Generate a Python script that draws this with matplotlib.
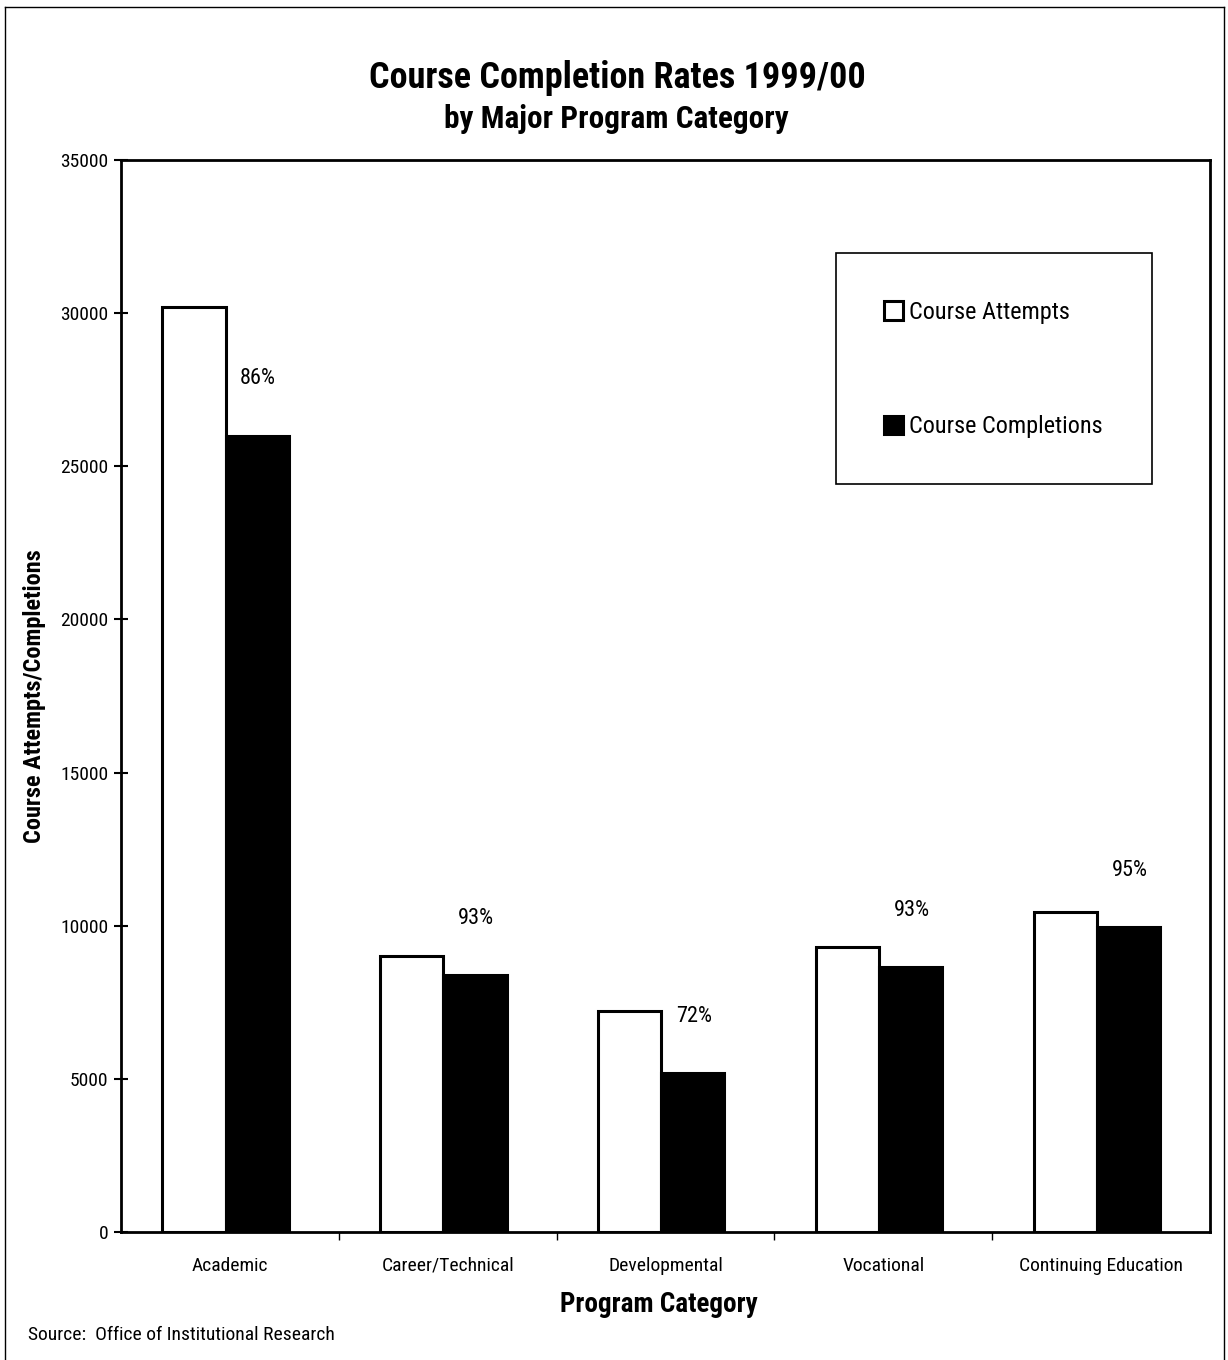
import matplotlib
matplotlib.use("Agg")
import matplotlib.pyplot as plt
from matplotlib.patches import Patch
from matplotlib.lines import Line2D

# ---- data ----
categories = ["Academic", "Career/Technical", "Developmental", "Vocational", "Continuing Education"]
attempts = [30200, 9000, 7200, 9300, 10450]
completions = [26000, 8400, 5200, 8650, 9950]
rates = [86, 93, 72, 93, 95]
y_ticks = [0, 5000, 10000, 15000, 20000, 25000, 30000, 35000]

FONT = ["Roboto Condensed", "Liberation Sans", "DejaVu Sans"]
plt.rcParams["font.family"] = FONT

fig = plt.figure(figsize=(12.28, 13.6), dpi=100)
ax = fig.add_axes([121/1228, 1 - 1232/1360, (1210-121)/1228, (1232-160)/1360])

x = list(range(len(categories)))
w = 0.29
ax.bar([i - 0.165 for i in x], attempts, width=w, color="white", edgecolor="black", linewidth=2.2)
ax.bar([i + 0.125 for i in x], completions, width=w, color="black", edgecolor="black", linewidth=2.2)

for i, (c, r) in enumerate(zip(completions, rates)):
    ax.text(i + 0.13, c + 1850, f"{r}%", ha="center", va="center", fontsize=16)

ax.set_xlim(-0.5, len(categories) - 0.5)
ax.set_ylim(0, 35000)
ax.set_yticks(y_ticks)
ax.set_yticklabels([str(v) for v in y_ticks], fontsize=14)
ax.tick_params(axis="y", direction="inout", length=10, width=1.5, pad=4)
ax.set_xticks(x)
ax.set_xticklabels(categories, fontsize=14)
ax.tick_params(axis="x", which="major", length=0, pad=18)
ax.set_xticks([i + 0.5 for i in x[:-1]], minor=True)
ax.tick_params(axis="x", which="minor", direction="out", length=6, width=1)

for s in ax.spines.values():
    s.set_linewidth(2.0)

ax.set_ylabel("Course Attempts/Completions", fontsize=17.5, fontweight="bold")
ax.yaxis.set_label_coords((35-121)/1089, 0.5)
ax.set_xlabel("Program Category", fontsize=19.5, fontweight="bold")
ax.xaxis.set_label_coords((659-121)/1089, (1232-1305)/1072)
ax.xaxis.label.set_va("center")
ax.yaxis.label.set_va("center")

# legend frame + legend
ax.add_patch(plt.Rectangle(((836-121)/1089, (1232-484)/1072), (1152-836)/1089, (484-253)/1072,
                           transform=ax.transAxes, facecolor="white", edgecolor="black", linewidth=1.2, zorder=3))
handles = [Patch(facecolor="white", edgecolor="black", linewidth=2.2),
           Patch(facecolor="black", edgecolor="black", linewidth=2.2)]
leg = ax.legend(handles, ["Course Attempts", "Course Completions"], loc="upper left",
                bbox_to_anchor=((884-121)/1089, (1232-301)/1072), frameon=False, fontsize=17.5,
                handlelength=0.78, handleheight=0.78, handletextpad=0.25, labelspacing=3.75, borderpad=0,
                borderaxespad=0)
leg.set_zorder(4)

fig.text(617/1228, 1 - 78/1360, "Course Completion Rates 1999/00", ha="center", va="center",
         fontsize=26, fontweight="bold")
fig.text(616/1228, 1 - 119/1360, "by Major Program Category", ha="center", va="center",
         fontsize=22.5, fontweight="bold")
fig.text(28/1228, 1 - 1335/1360, "Source:  Office of Institutional Research", ha="left", va="center",
         fontsize=14)

# page border
for xs, ys in [([5, 5], [7, 1360]), ([5, 1224], [7, 7]), ([1224, 1224], [7, 1360])]:
    fig.add_artist(Line2D([v/1228 for v in xs], [1 - v/1360 for v in ys], color="black", linewidth=1.0,
                          transform=fig.transFigure))

fig.savefig("out.png", dpi=100, facecolor="white")
